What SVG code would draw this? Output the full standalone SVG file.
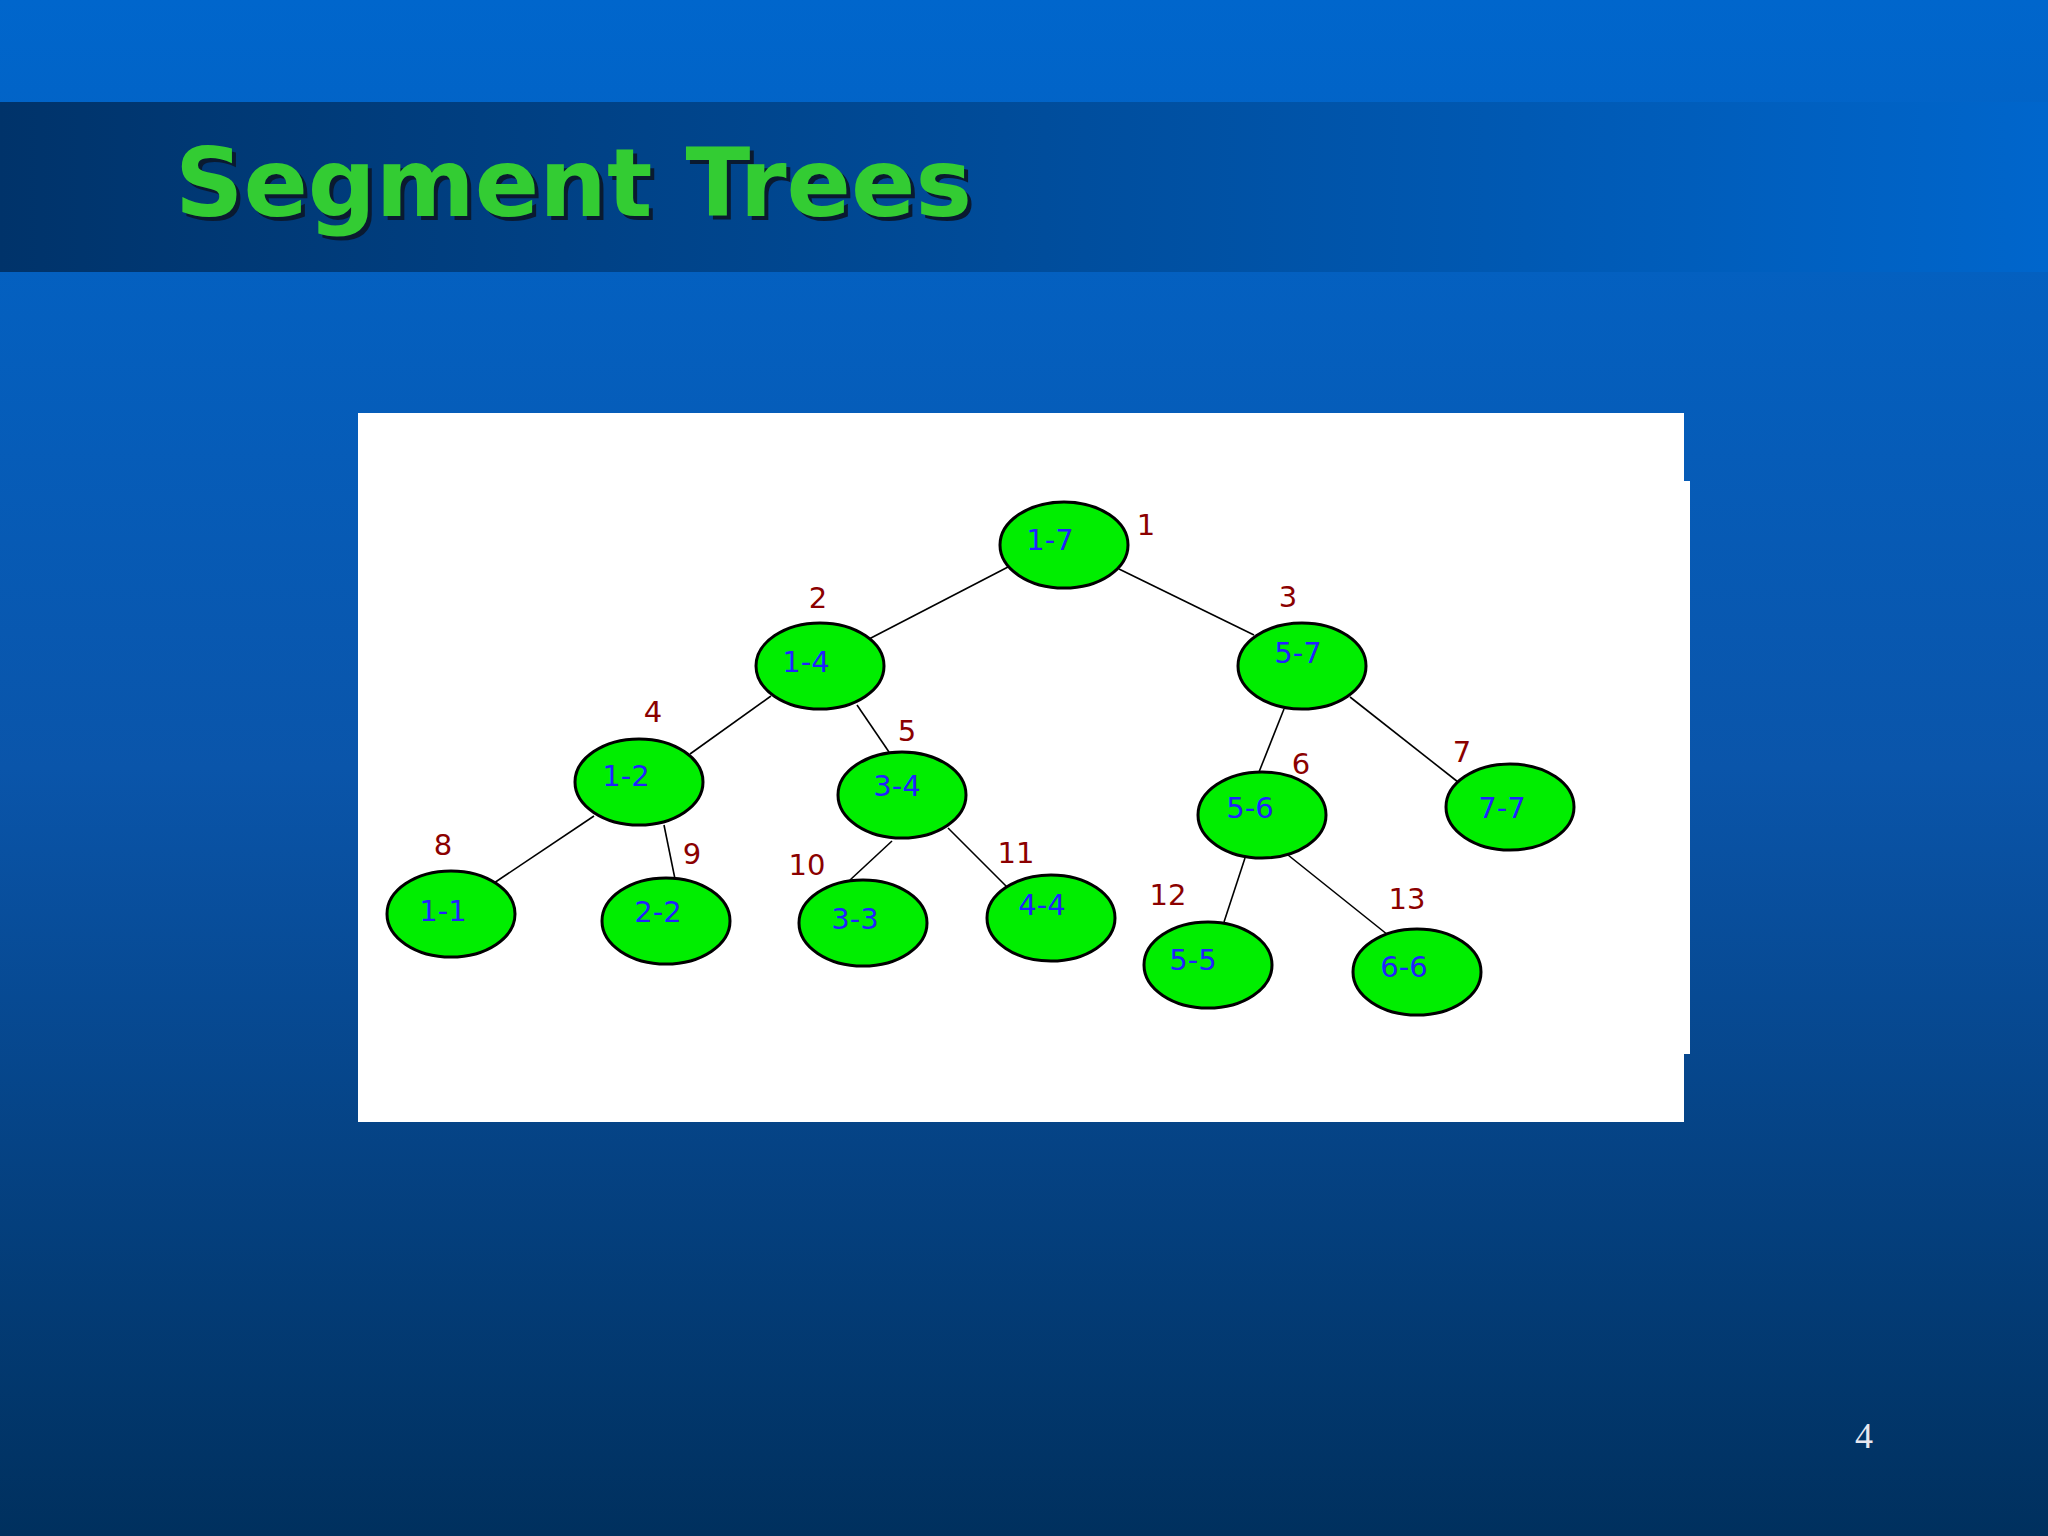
<svg xmlns="http://www.w3.org/2000/svg" width="2048" height="1536" viewBox="0 0 2048 1536">
<defs>
<linearGradient id="bg" x1="0" y1="0" x2="0" y2="1"><stop offset="0" stop-color="#0066cc"/><stop offset="0.5" stop-color="#0a55aa"/><stop offset="1" stop-color="#00305e"/></linearGradient>
<linearGradient id="band" x1="0" y1="0" x2="1" y2="0"><stop offset="0" stop-color="#00336a"/><stop offset="1" stop-color="#0066cc"/></linearGradient>
<style>
.n ellipse{fill:#00ee00;stroke:#000;stroke-width:3}
.n text{font-family:"DejaVu Sans",sans-serif;font-size:29px;fill:#2020ff;text-anchor:middle}
.num{font-family:"DejaVu Sans",sans-serif;font-size:29px;fill:#8b0000;text-anchor:middle}
#edges line{stroke:#000;stroke-width:1.6}
</style>
</defs>
<rect width="2048" height="1536" fill="url(#bg)"/>
<rect y="102" width="2048" height="170" fill="url(#band)"/>
<text x="179" y="220" font-family="'DejaVu Sans',sans-serif" font-weight="bold" font-size="95" fill="#0a1a30">Segment Trees</text>
<text x="175" y="216" font-family="'DejaVu Sans',sans-serif" font-weight="bold" font-size="95" fill="#33cc33">Segment Trees</text>
<rect x="358" y="413" width="1326" height="709" fill="#fff"/>
<rect x="1680" y="481" width="10" height="573" fill="#fff"/>
<g id="edges">
<line x1="1008" y1="567" x2="869" y2="639"/><line x1="1119" y1="569" x2="1254" y2="635"/>
<line x1="771" y1="696" x2="690" y2="754"/><line x1="857" y1="705" x2="889" y2="752"/>
<line x1="1284" y1="709" x2="1259" y2="772"/><line x1="1350" y1="697" x2="1458" y2="782"/>
<line x1="594" y1="816" x2="494" y2="883"/><line x1="664" y1="825" x2="675" y2="879"/>
<line x1="892" y1="841" x2="850" y2="880"/><line x1="948" y1="828" x2="1007" y2="887"/>
<line x1="1245" y1="858" x2="1224" y2="922"/><line x1="1288" y1="855" x2="1388" y2="935"/>
</g>
<g id="n17" class="n"><ellipse cx="1064" cy="545" rx="64" ry="43"/><text x="1050" y="550">1-7</text></g>
<g id="n14" class="n"><ellipse cx="820" cy="666" rx="64" ry="43"/><text x="806" y="672">1-4</text></g>
<g id="n57" class="n"><ellipse cx="1302" cy="666" rx="64" ry="43"/><text x="1298" y="663">5-7</text></g>
<g id="n12" class="n"><ellipse cx="639" cy="782" rx="64" ry="43"/><text x="626" y="786">1-2</text></g>
<g id="n34" class="n"><ellipse cx="902" cy="795" rx="64" ry="43"/><text x="897" y="796">3-4</text></g>
<g id="n56" class="n"><ellipse cx="1262" cy="815" rx="64" ry="43"/><text x="1250" y="818">5-6</text></g>
<g id="n77" class="n"><ellipse cx="1510" cy="807" rx="64" ry="43"/><text x="1502" y="818">7-7</text></g>
<g id="n11" class="n"><ellipse cx="451" cy="914" rx="64" ry="43"/><text x="443" y="921">1-1</text></g>
<g id="n22" class="n"><ellipse cx="666" cy="921" rx="64" ry="43"/><text x="658" y="922">2-2</text></g>
<g id="n33" class="n"><ellipse cx="863" cy="923" rx="64" ry="43"/><text x="855" y="929">3-3</text></g>
<g id="n44" class="n"><ellipse cx="1051" cy="918" rx="64" ry="43"/><text x="1042" y="915">4-4</text></g>
<g id="n55" class="n"><ellipse cx="1208" cy="965" rx="64" ry="43"/><text x="1193" y="970">5-5</text></g>
<g id="n66" class="n"><ellipse cx="1417" cy="972" rx="64" ry="43"/><text x="1404" y="977">6-6</text></g>
<g>
<text class="num" x="1146" y="535">1</text><text class="num" x="818" y="608">2</text><text class="num" x="1288" y="607">3</text>
<text class="num" x="653" y="722">4</text><text class="num" x="907" y="741">5</text><text class="num" x="1301" y="774">6</text>
<text class="num" x="1462" y="762">7</text><text class="num" x="443" y="855">8</text><text class="num" x="692" y="864">9</text>
<text class="num" x="807" y="875">10</text><text class="num" x="1016" y="863">11</text><text class="num" x="1168" y="905">12</text>
<text class="num" x="1407" y="909">13</text>
</g>
<text x="1864" y="1448" font-family="'Liberation Serif',serif" font-size="36" fill="#e8e8f0" text-anchor="middle">4</text>
</svg>
